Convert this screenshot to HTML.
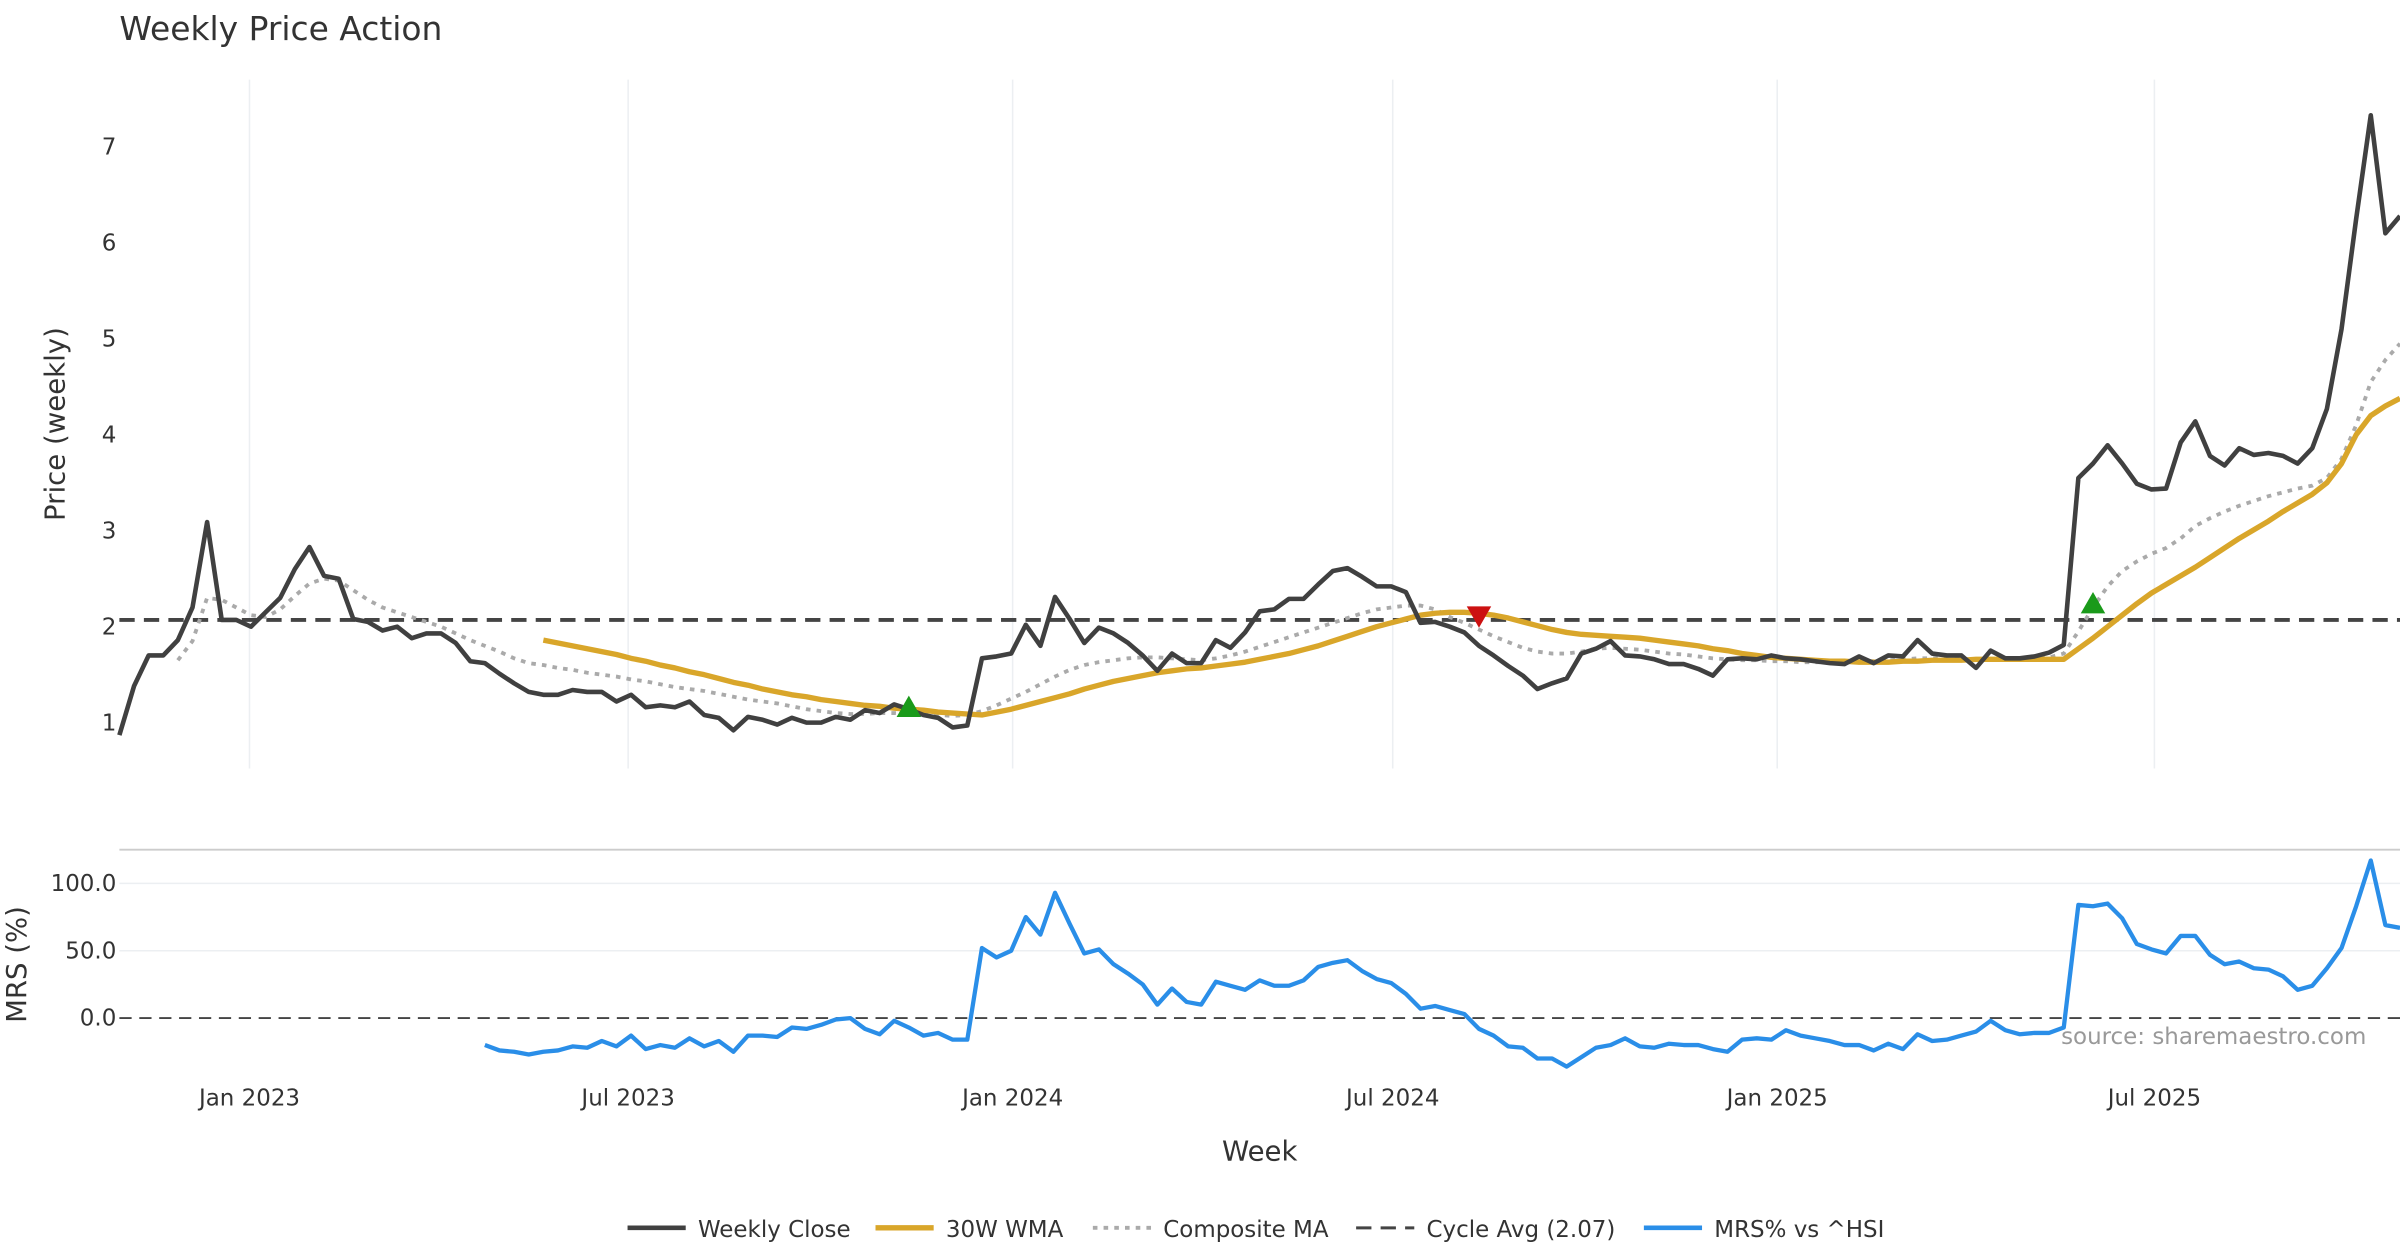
<!DOCTYPE html>
<html><head><meta charset="utf-8"><style>
html,body{margin:0;padding:0;background:#fff;}
svg{display:block;font-family:"DejaVu Sans","Liberation Sans",sans-serif;}
</style></head><body>
<svg id="chart" width="2400" height="1260" viewBox="0 0 1568 823" preserveAspectRatio="none" xmlns="http://www.w3.org/2000/svg">
<text x="78" y="26" font-size="21.5" fill="#333">Weekly Price Action</text>
<text transform="translate(42,277) rotate(-90)" text-anchor="middle" font-size="18" fill="#333">Price (weekly)</text>
<text transform="translate(17,630) rotate(-90)" text-anchor="middle" font-size="18" fill="#333">MRS (%)</text>
<text x="823" y="758" text-anchor="middle" font-size="18" fill="#333">Week</text>
<text x="1546" y="682" text-anchor="end" font-size="15" fill="#999">source: sharemaestro.com</text>
<line x1="78" y1="555" x2="1568" y2="555" stroke="#ccc" stroke-width="1.2"/>
<g id="grid"></g><g id="marks"></g><g id="legend"></g>
</svg>
<script>
const closeVals=[0.87,1.38,1.7,1.7,1.86,2.2,3.09,2.07,2.07,2.0,2.15,2.3,2.6,2.83,2.53,2.5,2.08,2.05,1.96,2.0,1.88,1.93,1.93,1.83,1.64,1.62,1.51,1.41,1.32,1.29,1.29,1.34,1.32,1.32,1.22,1.29,1.16,1.18,1.16,1.22,1.08,1.05,0.92,1.06,1.03,0.98,1.05,1.0,1.0,1.06,1.03,1.13,1.1,1.19,1.14,1.08,1.05,0.95,0.97,1.67,1.69,1.72,2.02,1.8,2.31,2.08,1.83,1.99,1.93,1.83,1.7,1.54,1.72,1.62,1.62,1.86,1.78,1.94,2.16,2.18,2.29,2.29,2.44,2.58,2.61,2.52,2.42,2.42,2.36,2.04,2.05,2.0,1.94,1.8,1.7,1.59,1.49,1.35,1.41,1.46,1.72,1.77,1.85,1.7,1.69,1.66,1.61,1.61,1.56,1.49,1.66,1.67,1.66,1.7,1.67,1.66,1.64,1.62,1.61,1.69,1.62,1.7,1.69,1.86,1.72,1.7,1.7,1.57,1.75,1.67,1.67,1.69,1.73,1.81,3.55,3.7,3.89,3.7,3.49,3.43,3.44,3.92,4.14,3.78,3.68,3.86,3.79,3.81,3.78,3.7,3.86,4.27,5.1,6.25,7.33,6.1,6.28];
const wmaStart=29;
const wmaVals=[1.86,1.83,1.80,1.77,1.74,1.71,1.67,1.64,1.60,1.57,1.53,1.50,1.46,1.42,1.39,1.35,1.32,1.29,1.27,1.24,1.22,1.20,1.18,1.17,1.15,1.14,1.13,1.11,1.10,1.09,1.08,1.11,1.14,1.18,1.22,1.26,1.30,1.35,1.39,1.43,1.46,1.49,1.52,1.54,1.56,1.57,1.59,1.61,1.63,1.66,1.69,1.72,1.76,1.80,1.85,1.90,1.95,2.00,2.04,2.08,2.12,2.14,2.15,2.15,2.14,2.12,2.09,2.05,2.01,1.97,1.94,1.92,1.91,1.90,1.89,1.88,1.86,1.84,1.82,1.80,1.77,1.75,1.72,1.70,1.68,1.67,1.66,1.65,1.64,1.64,1.63,1.63,1.63,1.64,1.64,1.65,1.65,1.65,1.66,1.66,1.66,1.66,1.66,1.66,1.66,1.77,1.88,2.00,2.12,2.24,2.35,2.44,2.53,2.62,2.72,2.82,2.92,3.01,3.10,3.20,3.29,3.38,3.50,3.70,4.00,4.20,4.30,4.38];
const compStart=4;
const compVals=[1.65,1.85,2.30,2.28,2.20,2.12,2.10,2.18,2.32,2.45,2.50,2.48,2.38,2.28,2.20,2.15,2.10,2.05,2.00,1.93,1.86,1.80,1.74,1.67,1.62,1.60,1.57,1.55,1.52,1.50,1.48,1.45,1.43,1.40,1.37,1.35,1.33,1.30,1.27,1.24,1.22,1.20,1.17,1.14,1.12,1.10,1.09,1.09,1.10,1.10,1.09,1.09,1.08,1.07,1.08,1.12,1.18,1.25,1.32,1.40,1.48,1.55,1.60,1.63,1.65,1.67,1.68,1.68,1.67,1.66,1.65,1.67,1.70,1.74,1.79,1.84,1.89,1.94,1.99,2.04,2.09,2.14,2.18,2.20,2.22,2.22,2.18,2.10,2.04,1.97,1.90,1.84,1.78,1.74,1.72,1.72,1.74,1.77,1.78,1.77,1.76,1.74,1.72,1.71,1.69,1.67,1.66,1.65,1.65,1.64,1.64,1.63,1.63,1.63,1.63,1.64,1.64,1.65,1.66,1.67,1.67,1.67,1.66,1.66,1.66,1.66,1.67,1.67,1.68,1.72,1.95,2.20,2.42,2.58,2.68,2.76,2.82,2.92,3.05,3.13,3.20,3.26,3.31,3.36,3.40,3.44,3.47,3.55,3.75,4.10,4.55,4.78,4.95];
const mrsStart=25;
const mrsVals=[-20,-24,-25,-27,-25,-24,-21,-22,-17,-21,-13,-23,-20,-22,-15,-21,-17,-25,-13,-13,-14,-7,-8,-5,-1,0,-8,-12,-2,-7,-13,-11,-16,-16,52,45,50,75,62,93,70,48,51,40,33,25,10,22,12,10,27,24,21,28,24,24,28,38,41,43,35,29,26,18,7,9,6,3,-8,-13,-21,-22,-30,-30,-36,-29,-22,-20,-15,-21,-22,-19,-20,-20,-23,-25,-16,-15,-16,-9,-13,-15,-17,-20,-20,-24,-19,-23,-12,-17,-16,-13,-10,-2,-9,-12,-11,-11,-7,84,83,85,74,55,51,48,61,61,47,40,42,37,36,31,21,24,37,52,83,117,69,67];
const cycleAvg=2.07;
const priceTicks=[1,2,3,4,5,6,7];
const mrsTicks=[0,50,100];
const dateLabels=["Jan 2023","Jul 2023","Jan 2024","Jul 2024","Jan 2025","Jul 2025"];
const dateIdx=[8.9,34.8,61.1,87.1,113.4,139.2];
const buyIdx=[54,135];
const buyVals=[1.17,2.25];
const sellIdx=[93];
const sellVals=[2.1];

const NS="http://www.w3.org/2000/svg";
const X0=78,X1=1568,N=closeVals.length;
function xs(i){return X0+i*(X1-X0)/(N-1);}
function yp(v){return 472-(v-1)*62.67;}
function ym(v){return 665-v*0.88;}
function mk(tag,attrs,parent){const e=document.createElementNS(NS,tag);for(const k in attrs)e.setAttribute(k,attrs[k]);parent.appendChild(e);return e;}
const grid=document.getElementById('grid'),marks=document.getElementById('marks'),legend=document.getElementById('legend');

dateIdx.forEach((d,k)=>{
  const l=mk('line',{x1:xs(d),x2:xs(d),y1:52,y2:502,stroke:'#eceff2','stroke-width':1},grid);
  
  
  const t=mk('text',{x:xs(d),y:722,'text-anchor':'middle','font-size':15,fill:'#333'},grid);
  t.textContent=dateLabels[k];
  
  
});
priceTicks.forEach(v=>{
  const t=mk('text',{x:76,y:yp(v)+5,'text-anchor':'end','font-size':15,fill:'#333'},grid);
  t.textContent=String(v);
  
  
});
mrsTicks.forEach(v=>{
  if(v!==0){const l=mk('line',{x1:X0,x2:X1,y1:ym(v),y2:ym(v),stroke:'#eceff2','stroke-width':1},grid);
  
  }
  const t=mk('text',{x:76,y:ym(v)+5,'text-anchor':'end','font-size':15,fill:'#333'},grid);
  t.textContent=v.toFixed(1);
  
  
});
const zl=mk('line',{x1:X0,x2:X1,y1:ym(0),y2:ym(0),stroke:'#444','stroke-width':1.2,'stroke-dasharray':'8,5'},grid);


const cl=mk('line',{x1:X0,x2:X1,y1:yp(cycleAvg),y2:yp(cycleAvg),stroke:'#444','stroke-width':2.5,'stroke-dasharray':'10,6'},marks);



function path(vals,start,yf){return vals.map((v,k)=>(k?'L':'M')+xs(start+k).toFixed(2)+','+yf(v).toFixed(2)).join('');}
const pc=mk('path',{d:path(compVals,compStart,yp),fill:'none',stroke:'#aaa','stroke-width':2.5,'stroke-dasharray':'3,4'},marks);


const pw=mk('path',{d:path(wmaVals,wmaStart,yp),fill:'none',stroke:'#d9a62a','stroke-width':3.5,'stroke-linejoin':'round'},marks);


const pcl=mk('path',{d:path(closeVals,0,yp),fill:'none',stroke:'#404040','stroke-width':3,'stroke-linejoin':'round'},marks);


const pm=mk('path',{d:path(mrsVals,mrsStart,ym),fill:'none',stroke:'#2a8ee8','stroke-width':2.8,'stroke-linejoin':'round'},marks);


buyIdx.forEach((d,k)=>{const x=xs(d),y=yp(buyVals[k]);
  const p=mk('polygon',{points:`${x-8},${y+7} ${x+8},${y+7} ${x},${y-7}`,fill:'#1a9a1a'},marks);
  
  });
sellIdx.forEach((d,k)=>{const x=xs(d),y=yp(sellVals[k]);
  const p=mk('polygon',{points:`${x-8},${y-7} ${x+8},${y-7} ${x},${y+7}`,fill:'#cc1111'},marks);
  
  });

const leg=[["Weekly Close","#404040","",3,410],["30W WMA","#d9a62a","",3.5,572],["Composite MA","#aaa","3,4",2.5,714],["Cycle Avg (2.07)","#444","10,6",2,886],["MRS% vs ^HSI","#2a8ee8","",3,1074]];
leg.forEach(e=>{
  const g=mk('g',{},legend);
  
  
  mk('line',{x1:e[4],x2:e[4]+38,y1:802,y2:802,stroke:e[1],'stroke-width':e[3],'stroke-dasharray':e[2]},g);
  const t=mk('text',{x:e[4]+46,y:808,'font-size':15,fill:'#333'},g);
  t.textContent=e[0];
});
</script>
</body></html>
